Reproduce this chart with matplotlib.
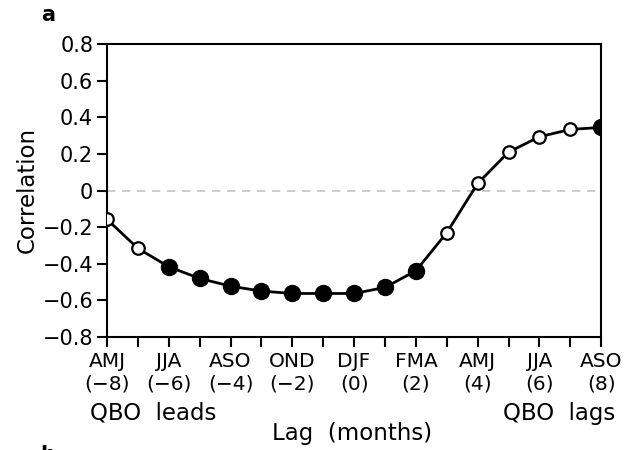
import matplotlib
matplotlib.use("Agg")
import matplotlib.pyplot as plt

# lag in months (negative = QBO leads), seasonal window names, correlation
lags = [-8, -7, -6, -5, -4, -3, -2, -1, 0, 1, 2, 3, 4, 5, 6, 7, 8]
corr = [-0.157, -0.316, -0.416, -0.48, -0.522, -0.549, -0.562, -0.562, -0.562,
        -0.529, -0.438, -0.23, 0.039, 0.21, 0.294, 0.334, 0.345]
signif = [False, False, True, True, True, True, True, True, True,
          True, True, False, False, False, False, False, True]
seasons = ["AMJ", "MJJ", "JJA", "JAS", "ASO", "SON", "OND", "NDJ", "DJF",
           "JFM", "FMA", "MAM", "AMJ", "MJJ", "JJA", "JAS", "ASO"]
yticks = [-0.8, -0.6, -0.4, -0.2, 0, 0.2, 0.4, 0.6, 0.8]

plt.rcParams["font.family"] = ["DejaVu Sans"]

fig = plt.figure(figsize=(6.24, 4.5), dpi=100)
ax = fig.add_axes([0.1715, 0.251, 0.792, 0.651])

ax.axhline(0, color="#c4c4c4", lw=1.2, ls=(0, (5, 4)), zorder=1)
ax.plot(lags, corr, color="black", lw=2, zorder=2)
fx = [l for l, s in zip(lags, signif) if s]
fy = [c for c, s in zip(corr, signif) if s]
ox = [l for l, s in zip(lags, signif) if not s]
oy = [c for c, s in zip(corr, signif) if not s]
ax.plot(fx, fy, "o", ms=11.5, mfc="black", mec="black", zorder=3)
ax.plot(ox, oy, "o", ms=9, mfc="white", mec="black", mew=1.6, zorder=3)

ax.set_xlim(-8, 8)
ax.set_ylim(-0.8, 0.8)
ax.set_yticks(yticks)
ax.set_yticklabels(["0" if v == 0 else f"{v:.1f}".replace("-", "\u2212") for v in yticks])
ax.set_xticks(lags)
ax.set_xticklabels([f"{s}\n({l})".replace("-", "\u2212") if l % 2 == 0 else ""
                    for s, l in zip(seasons, lags)], linespacing=1.2)
ax.tick_params(axis="y", direction="out", length=7, width=1.5, labelsize=15, pad=3)
ax.tick_params(axis="x", direction="out", length=7, width=1.5, labelsize=14.5, pad=4)
for sp in ax.spines.values():
    sp.set_linewidth(1.5)

fig.text(0.043, 0.578, "Correlation", fontsize=16.5, rotation=90, ha="center", va="center")
fig.text(0.564, 0.036, "Lag  (months)", fontsize=16.5, ha="center", va="center")
fig.text(0.144, 0.082, "QBO  leads", fontsize=16.5, ha="left", va="center")
fig.text(0.986, 0.082, "QBO  lags", fontsize=16.5, ha="right", va="center")
fig.text(0.077, 0.966, "a", fontsize=15, fontweight="bold", ha="center", va="center")
fig.text(0.077, -0.012, "b", fontsize=15, fontweight="bold", ha="center", va="center")

fig.savefig("out.png", dpi=100)
